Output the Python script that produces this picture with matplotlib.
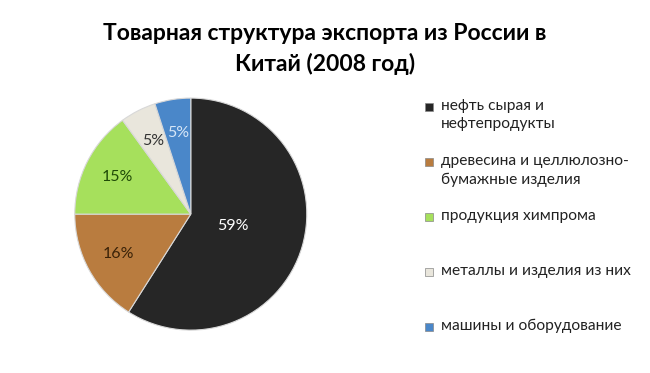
import matplotlib
matplotlib.use('Agg')
import matplotlib.pyplot as plt
from matplotlib.patches import Rectangle

plt.rcParams['font.family'] = ['Lato', 'DejaVu Sans']

labels = ['нефть сырая и\nнефтепродукты',
          'древесина и целлюлозно-\nбумажные изделия',
          'продукция химпрома',
          'металлы и изделия из них',
          'машины и оборудование']
shares = [59, 16, 15, 5, 5]
colors = ['#262626', '#b97c3f', '#a6e05c', '#e9e6dc', '#4a87c9']
pct_colors = ['#ffffff', '#3a2208', '#1f4a07', '#333333', '#d6e6f7']

fig = plt.figure(figsize=(6.5, 3.73), dpi=100)
ax = fig.add_axes([0.115, 0.115, 0.357, 0.622])

wedges, texts, autotexts = ax.pie(shares, colors=colors, startangle=90,
                                  counterclock=False,
                                  autopct=lambda p: f'{round(p)}%',
                                  pctdistance=0.71,
                                  wedgeprops=dict(edgecolor='#d8d8d8', linewidth=0.8),
                                  textprops=dict(fontsize=11.5))
for t, c in zip(autotexts, pct_colors):
    t.set_color(c)
# the big slice has its label closer to the middle
x, y = autotexts[0].get_position()
autotexts[0].set_position((x * 0.38 / 0.71, y * 0.38 / 0.71))
ax.set_xlim(-1, 1)
ax.set_ylim(-1, 1)
ax.set_aspect('equal')

fig.text(0.5, 1 - 49 / 373, 'Товарная структура экспорта из России в\nКитай (2008 год)',
         ha='center', va='center', fontsize=16.5, fontweight='bold',
         linespacing=1.5)

# legend, one slot per item
top = 107
for i, (lab, col) in enumerate(zip(labels, colors)):
    yp = top + i * 55
    fig.patches.append(Rectangle((425 / 650, 1 - (yp + 4) / 373), 8 / 650, 8 / 373,
                                 transform=fig.transFigure, facecolor=col,
                                 edgecolor='#888888', linewidth=0.5))
    fig.text(441 / 650, 1 - (yp - 8) / 373, lab, ha='left', va='top',
             fontsize=11.2, color='#222222', linespacing=1.4)

fig.savefig('out.png', dpi=100)
